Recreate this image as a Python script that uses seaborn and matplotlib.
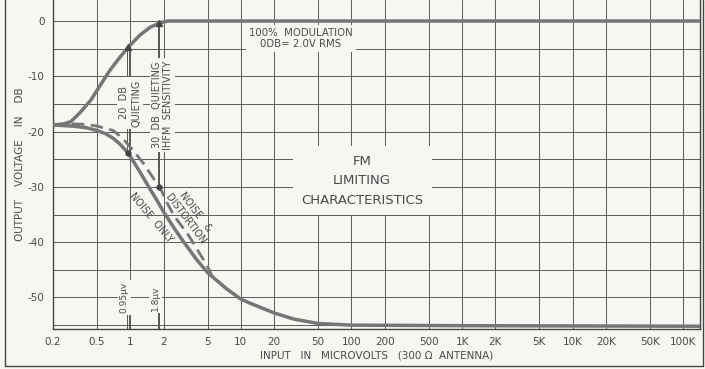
import numpy as np
import pandas as pd
import seaborn as sns
import matplotlib.pyplot as plt
from matplotlib.lines import Line2D

# ---- data (input in microvolts, output in dB) ----
mod_uv = [0.2, 0.25, 0.29, 0.35, 0.44, 0.54, 0.66, 0.81, 0.96, 1.23, 1.52, 1.87, 2.2, 140000]
mod_db = [-18.8, -18.6, -18.2, -16.6, -14.3, -11.5, -8.8, -6.5, -4.7, -2.5, -1.1, -0.3, 0.0, 0.0]

noise_uv = [0.2, 0.3, 0.4, 0.5, 0.6, 0.7, 0.8, 0.95, 1.1, 1.3, 1.5, 1.75, 2, 2.5, 3, 4, 5,
            7.5, 10, 12, 20, 30, 50, 100, 1000, 140000]
noise_db = [-18.8, -19.0, -19.3, -19.8, -20.4, -21.2, -22.2, -23.8, -25.8, -28.2, -30.3,
            -32.5, -34.5, -37.5, -39.8, -43.2, -45.5, -48.5, -50.3, -51.0, -52.8, -53.9,
            -54.7, -55.0, -55.1, -55.2]

dist_uv = [0.2, 0.3, 0.4, 0.5, 0.7, 0.85, 1.0, 1.3, 1.6, 1.85, 2.1, 2.5, 3.3, 4, 5, 5.5]
dist_db = [-18.8, -18.6, -18.7, -19.0, -19.8, -21.2, -22.8, -25.6, -28.3, -30.0, -32.5,
           -35.3, -38.5, -41.2, -44.4, -46.2]

xticks = [0.2, 0.5, 1, 2, 5, 10, 20, 50, 100, 200, 500, 1000, 2000, 5000, 10000, 20000, 50000, 100000]
xlabels = ["0.2", "0.5", "1", "2", "5", "10", "20", "50", "100", "200", "500",
           "1K", "2K", "5K", "10K", "20K", "50K", "100K"]
yticks = [0, -10, -20, -30, -40, -50]
ylabels = ["0", "-10", "-20", "-30", "-40", "-50"]

quiet_uv = [0.95, 1.8]
quiet_top = [-4.7, -0.3]
quiet_low = [-23.8, -30.0]

paper = "#f6f6f3"
ink = "#4a4a4a"
curve = "#767676"

sns.set_style("white")
plt.rcParams['font.family'] = ['DejaVu Sans']

fig = plt.figure(figsize=(7.05, 3.69), dpi=100, facecolor=paper)
ax = fig.add_axes([53/705, 40/369, 647/705, 329/369])
ax.set_facecolor(paper)

mod = pd.DataFrame({"uv": mod_uv, "db": mod_db})
noise = pd.DataFrame({"uv": noise_uv, "db": noise_db})
dist = pd.DataFrame({"uv": dist_uv, "db": dist_db})

sns.lineplot(data=mod, x="uv", y="db", ax=ax, color=curve, lw=2.5, sort=False, estimator=None, zorder=4)
sns.lineplot(data=noise, x="uv", y="db", ax=ax, color=curve, lw=2.5, sort=False, estimator=None, zorder=4)
sns.lineplot(data=dist, x="uv", y="db", ax=ax, color=curve, lw=2.0, sort=False, estimator=None, zorder=4)
ax.lines[-1].set_dashes([4.5, 2.3])

ax.set_xscale("log")
ax.set_xlim(0.2, 142000)
ax.set_ylim(-55.7, 3.8)

ax.set_xticks(xticks)
ax.set_xticklabels(xlabels)
ax.xaxis.set_minor_locator(plt.NullLocator())
ax.set_yticks(np.arange(-55, 1, 5))
ax.set_yticklabels([ylabels[yticks.index(v)] if v in yticks else "" for v in np.arange(-55, 1, 5)])
ax.tick_params(length=0, labelsize=7.5, labelcolor=ink, pad=6)

ax.grid(True, color="#5a5a5a", lw=0.7)
ax.set_axisbelow(True)
for s in ["left", "bottom", "right"]:
    ax.spines[s].set_color("#444444")
    ax.spines[s].set_linewidth(1.0)
ax.spines["top"].set_visible(False)

ax.set_xlabel("INPUT   IN   MICROVOLTS   (300 \u03a9  ANTENNA)", fontsize=7.5, color=ink, labelpad=2)
ax.set_ylabel("OUTPUT    VOLTAGE    IN    DB", fontsize=7.5, color=ink)
ax.yaxis.set_label_coords(-0.043, 0.5)

# quieting markers
for xv, yt, yl in zip(quiet_uv, quiet_top, quiet_low):
    ax.vlines([xv * 0.985, xv * 1.015], yl, yt, color="#555555", lw=0.7, zorder=3)
    ax.vlines([xv * 0.985, xv * 1.015], -52.5, -55.7, color="#555555", lw=0.7, zorder=3)
ax.plot(quiet_uv, quiet_top, ls="none", marker="^", ms=4, color="#444444", zorder=5)
ax.plot(quiet_uv, quiet_low, ls="none", marker="o", ms=3.5, color="#444444", zorder=5)

box = dict(facecolor=paper, edgecolor="none", pad=1.5)
ax.text(1.0, -14.8, "20  DB\nQUIETING", rotation=90, ha="center", va="center",
        fontsize=7, color=ink, linespacing=1.2, bbox=box, zorder=6)
ax.text(1.95, -15.2, "30  DB  QUIETING\nIHFM  SENSITIVITY", rotation=90, ha="center", va="center",
        fontsize=7, color=ink, linespacing=1.2, bbox=box, zorder=6)
ax.text(0.88, -50.0, "0.95\u03bcv", rotation=90, ha="center", va="center", fontsize=6.5, color=ink,
        bbox=box, zorder=6)
ax.text(1.68, -50.2, "1.8\u03bcv", rotation=90, ha="center", va="center", fontsize=6.5, color=ink,
        bbox=box, zorder=6)

ax.text(1.55, -35.6, "NOISE  ONLY", rotation=-50, ha="center", va="center", fontsize=7,
        color=ink, zorder=6, rotation_mode="anchor")
ax.text(3.5, -35.2, "NOISE   &\nDISTORTION", rotation=-53, ha="center", va="center", fontsize=7,
        color=ink, zorder=6, linespacing=1.3, rotation_mode="anchor")

ax.text(35, -3.2, "100%  MODULATION\n0DB= 2.0V RMS", ha="center", va="center", fontsize=7.3,
        color=ink, linespacing=1.15, bbox=dict(facecolor=paper, edgecolor="none", pad=2), zorder=6)

ax.text(125, -28.9, "FM\nLIMITING\nCHARACTERISTICS", ha="center", va="center", fontsize=9.5,
        color=ink, linespacing=1.65, bbox=dict(facecolor=paper, edgecolor="none", pad=6), zorder=6)

# outer frame of the scanned figure
fig.add_artist(Line2D([5/705, 5/705], [3/369, 1], color="#444444", lw=1.0))
fig.add_artist(Line2D([5/705, 703/705], [3/369, 3/369], color="#444444", lw=1.0))
fig.add_artist(Line2D([703/705, 703/705], [3/369, 1], color="#444444", lw=1.0))

fig.savefig("out.png", dpi=100, facecolor=paper)
